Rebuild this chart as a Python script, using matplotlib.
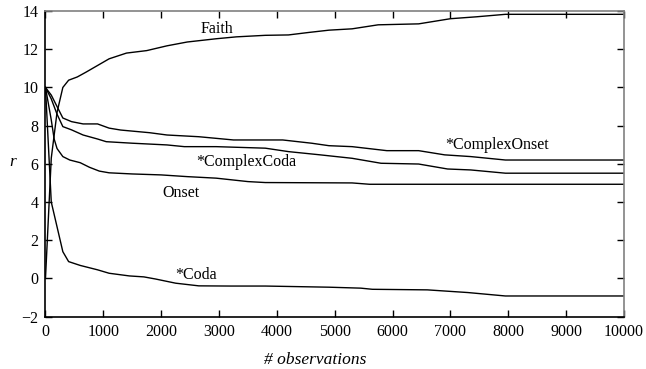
import matplotlib
matplotlib.use("Agg")
import matplotlib.pyplot as plt

# values
faith_x = [0, 100, 200, 300, 400, 550, 700, 900, 1100, 1400, 1750, 2100, 2450, 2950,
           3300, 3800, 4200, 4550, 4900, 5300, 5750, 6450, 7000, 7450, 7950, 10000]
faith_y = [0, 6.3, 8.7, 10.0, 10.38, 10.55, 10.8, 11.15, 11.5, 11.8, 11.93, 12.18, 12.38, 12.55,
           12.65, 12.73, 12.75, 12.88, 13.0, 13.07, 13.28, 13.33, 13.6, 13.7, 13.83, 13.83]

coda_x = [0, 100, 200, 300, 400, 600, 900, 1100, 1450, 1700, 1900, 2250, 2650, 3200,
          3800, 4900, 5450, 5650, 6600, 7050, 7300, 7950, 10000]
coda_y = [10, 4.0, 2.7, 1.4, 0.88, 0.68, 0.45, 0.27, 0.13, 0.08, -0.03, -0.25, -0.39, -0.4,
          -0.4, -0.46, -0.51, -0.57, -0.6, -0.69, -0.74, -0.92, -0.92]

conset_x = [0, 100, 200, 300, 450, 650, 900, 1100, 1300, 1800, 2100, 2650, 3250, 4100,
            4600, 4900, 5300, 5900, 6450, 6900, 7350, 7950, 10000]
conset_y = [10, 9.6, 9.0, 8.4, 8.21, 8.09, 8.09, 7.87, 7.77, 7.63, 7.51, 7.42, 7.25, 7.25,
            7.08, 6.95, 6.9, 6.69, 6.69, 6.47, 6.38, 6.2, 6.2]

ccoda_x = [0, 100, 200, 300, 450, 650, 900, 1050, 1500, 2100, 2400, 2950, 3800, 4200,
           4750, 5300, 5800, 6450, 6950, 7350, 7950, 10000]
ccoda_y = [10, 9.4, 8.6, 7.95, 7.78, 7.51, 7.3, 7.16, 7.08, 6.99, 6.9, 6.9, 6.82, 6.64,
           6.47, 6.29, 6.03, 5.99, 5.73, 5.68, 5.51, 5.51]

onset_x = [0, 100, 150, 200, 300, 420, 600, 760, 930, 1100, 1500, 2000, 2450, 2950,
           3500, 3800, 5300, 5600, 10000]
onset_y = [10, 8.3, 7.3, 6.8, 6.38, 6.2, 6.06, 5.82, 5.62, 5.53, 5.47, 5.42, 5.33, 5.25,
           5.07, 5.02, 5.0, 4.93, 4.93]

labels = ["Faith", "*ComplexOnset", "*ComplexCoda", "Onset", "*Coda"]
label_pos = [(2958, 13.06), (7797, 6.99), (3472, 6.12), (2348, 4.49), (2607, 0.18)]

plt.rcParams['font.family'] = ['Liberation Serif', 'DejaVu Serif']
plt.rcParams['font.size'] = 11.5

fig = plt.figure(figsize=(6.46, 3.69), dpi=100)
ax = fig.add_axes([0.0704, 0.142, 0.8956, 0.828])

for xs, ys in [(faith_x, faith_y), (coda_x, coda_y), (conset_x, conset_y),
               (ccoda_x, ccoda_y), (onset_x, onset_y)]:
    ax.plot(xs, ys, color='black', lw=1.0)

for txt, (tx, ty) in zip(labels, label_pos):
    ax.text(tx, ty, txt, ha='center', va='center', fontsize=11.5)

ax.set_xlim(0, 10000)
ax.set_ylim(-2, 14)
ax.set_xticks(range(0, 10001, 1000))
ax.set_yticks(range(-2, 15, 2))
ax.set_yticklabels(['\u22122'] + [str(v) for v in range(0, 15, 2)])

ax.tick_params(direction='in', length=5, width=1, top=True, right=True,
               labeltop=False, labelright=False)
ax.tick_params(axis='x', pad=5)
ax.tick_params(axis='y', pad=5)

ax.spines['left'].set_color('black')
ax.spines['bottom'].set_color('black')
ax.spines['top'].set_color('#808080')
ax.spines['right'].set_color('#808080')
for s in ax.spines.values():
    s.set_linewidth(1.2)

fig.text(0.0196, 0.56, 'r', style='italic', fontsize=12.5, ha='center', va='center')
fig.text(0.4876, 0.024, '# observations', style='italic', fontsize=12.5, ha='center', va='center')

plt.savefig('out.png', dpi=100)
